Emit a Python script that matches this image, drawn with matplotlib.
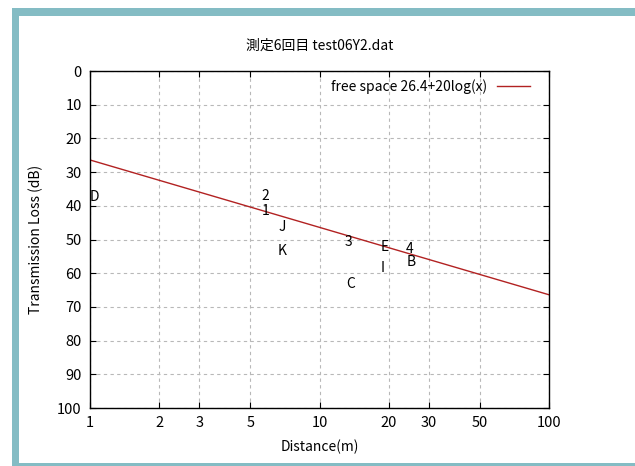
import numpy as np
import matplotlib
matplotlib.use("Agg")
from matplotlib import pyplot as plt
from matplotlib.patches import Rectangle

plt.rcParams["font.family"] = ["Noto Sans CJK JP", "DejaVu Sans"]

# measured points, drawn as their letter/number labels
labels = ["D", "2", "1", "J", "K", "3", "E", "I", "C", "4", "B"]
dist_m = [1.05, 5.8, 5.8, 6.9, 6.9, 13.4, 19.2, 18.9, 13.6, 24.8, 25.2]
loss_db = [37.3, 37.1, 41.5, 46.2, 53.3, 50.7, 52.1, 58.4, 63.2, 52.9, 56.7]

x_ticks = [1, 2, 3, 5, 10, 20, 30, 50, 100]
y_ticks = [0, 10, 20, 30, 40, 50, 60, 70, 80, 90, 100]

fs_const = 26.4  # free space: 26.4 + 20 log10(x)

W, H = 635, 466
fig = plt.figure(figsize=(W / 100, H / 100), dpi=100)
ax = fig.add_axes([90 / W, 1 - 408 / H, (549 - 90) / W, (408 - 71) / H])

# teal frame around the page
teal = "#84bcc4"
for x0, y0, w, h in [(12, 8, 7, 458), (12, 8, 623, 8), (12, 463, 623, 3)]:
    fig.patches.append(Rectangle((x0 / W, 1 - (y0 + h) / H), w / W, h / H,
                                 transform=fig.transFigure, color=teal, lw=0))

xs = np.logspace(0, 2, 200)
ax.plot(xs, fs_const + 20 * np.log10(xs), color="#b22222", lw=1.0,
        label="free space 26.4+20log(x)")

for lab, x, y in zip(labels, dist_m, loss_db):
    ax.text(x, y, lab, ha="center", va="center", fontsize=10)

ax.set_xscale("log")
ax.set_xlim(1, 100)
ax.set_ylim(100, 0)
ax.set_xticks(x_ticks)
ax.set_xticklabels([str(t) for t in x_ticks])
ax.minorticks_off()
ax.set_yticks(y_ticks)
ax.tick_params(direction="in", top=True, right=True, labelsize=10.5, length=4,
               width=0.8, pad=6)
ax.grid(True, color="0.72", ls=(0, (3, 3)), lw=0.8)
for s in ax.spines.values():
    s.set_linewidth(1.0)

ax.set_xlabel("Distance(m)", fontsize=10, labelpad=7)
ax.set_ylabel("Transmission Loss (dB)", fontsize=10, labelpad=10)
ax.set_title("測定6回目 test06Y2.dat", fontsize=10, pad=15)

# key sits just under the top border, line ending ~19 px from the right
leg = ax.legend(loc="center right", bbox_to_anchor=(0.959, 0.953),
                frameon=False, fontsize=10, handlelength=2.4,
                handletextpad=0.7, markerfirst=False,
                borderaxespad=0, borderpad=0)

fig.savefig("out.png", dpi=100, facecolor="white")
